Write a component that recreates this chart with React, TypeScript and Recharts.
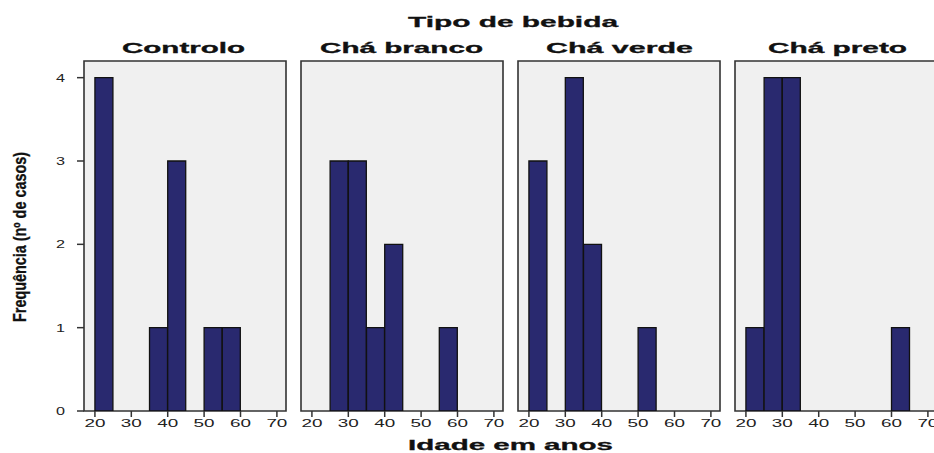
import { Bar, BarChart, CartesianGrid, ReferenceArea, XAxis, YAxis } from "recharts";

// histogram bins of 5 years, 20-70 (centres)
const binCenters = [22.5, 27.5, 32.5, 37.5, 42.5, 47.5, 52.5, 57.5, 62.5, 67.5];

const controlo = [4, 0, 0, 1, 3, 0, 1, 1, 0, 0];
const chaBranco = [0, 3, 3, 1, 2, 0, 0, 1, 0, 0];
const chaVerde = [3, 0, 4, 2, 0, 0, 1, 0, 0, 0];
const chaPreto = [1, 4, 4, 0, 0, 0, 0, 0, 1, 0];

const panelTitles = ["Controlo", "Chá branco", "Chá verde", "Chá preto"];
const panelSeries = [controlo, chaBranco, chaVerde, chaPreto];

const ageTicks = [20, 30, 40, 50, 60, 70];
const countTicks = [0, 1, 2, 3, 4];

const FONT = "'Liberation Sans', Arial, sans-serif";
const BAR_FILL = "#29296f";
const FRAME = "#333";

const PLOT_LEFT = 84;
const PLOT_PITCH = 217;
const PLOT_W = 202;
const AXIS_W = 40;

type TickProps = { x?: number; y?: number; payload?: { value: number } };

function AgeTick({ x = 0, y = 0, payload }: TickProps) {
  return (
    <text
      x={x}
      y={y + 8}
      textAnchor="middle"
      fontFamily={FONT}
      fontSize={11}
      fill="#222"
      textLength={21}
      lengthAdjust="spacingAndGlyphs"
    >
      {payload?.value}
    </text>
  );
}

function CountTick({ x = 0, y = 0, payload }: TickProps) {
  return (
    <text
      x={x - 10}
      y={y + 4}
      textAnchor="end"
      fontFamily={FONT}
      fontSize={11}
      fill="#222"
      textLength={9}
      lengthAdjust="spacingAndGlyphs"
    >
      {payload?.value}
    </text>
  );
}

function Panel({ index }: { index: number }) {
  const values = panelSeries[index];
  const data = binCenters.map((age, i) => ({ age, count: values[i] }));
  const first = index === 0;

  return (
    <div style={{ position: "absolute", left: PLOT_LEFT + PLOT_PITCH * index - AXIS_W, top: 51 }}>
      <BarChart
        width={AXIS_W + PLOT_W + 12}
        height={390}
        data={data}
        margin={{ top: 10, right: 12, bottom: 0, left: 0 }}
        barCategoryGap={0}
        barGap={0}
      >
        <CartesianGrid fill="#f0f0f0" horizontal={false} vertical={false} />
        <XAxis
          dataKey="age"
          type="number"
          domain={[17, 72.5]}
          allowDataOverflow
          ticks={ageTicks}
          axisLine={false}
          tickSize={6}
          tickLine={{ stroke: FRAME, strokeWidth: 1.5 }}
          tick={<AgeTick />}
          height={30}
          interval={0}
        />
        <YAxis
          type="number"
          domain={[0, 4.2]}
          allowDataOverflow
          ticks={countTicks}
          width={AXIS_W}
          axisLine={false}
          tickSize={7}
          tickLine={first ? { stroke: FRAME, strokeWidth: 1.5 } : false}
          tick={first ? <CountTick /> : false}
          interval={0}
        />
        <Bar
          dataKey="count"
          fill={BAR_FILL}
          stroke="#111"
          strokeWidth={1.3}
          isAnimationActive={false}
        />
        <ReferenceArea
          x1={17}
          x2={72.5}
          y1={0}
          y2={4.2}
          fill="none"
          stroke={FRAME}
          strokeWidth={1.6}
          ifOverflow="visible"
        />
      </BarChart>
    </div>
  );
}

const panelTitleX = [183.5, 401.5, 619.5, 837.5];
const panelTitleLen = [123, 163, 147, 139];

export default function App() {
  return (
    <div
      style={{
        position: "absolute",
        left: 0,
        top: 0,
        width: 934,
        height: 453,
        overflow: "hidden",
        background: "#fff",
      }}
    >
      {panelTitles.map((_, i) => (
        <Panel key={i} index={i} />
      ))}
      <svg
        width={934}
        height={453}
        style={{ position: "absolute", left: 0, top: 0, pointerEvents: "none" }}
      >
        <text
          x={513}
          y={27}
          textAnchor="middle"
          fontFamily={FONT}
          fontWeight={700}
          fontSize={15}
          textLength={210}
          lengthAdjust="spacingAndGlyphs"
          fill="#111"
          stroke="#111"
          strokeWidth={0.3}
        >
          Tipo de bebida
        </text>
        {panelTitles.map((t, i) => (
          <text
            key={t}
            x={panelTitleX[i]}
            y={53}
            textAnchor="middle"
            fontFamily={FONT}
            fontWeight={700}
            fontSize={14}
            textLength={panelTitleLen[i]}
            lengthAdjust="spacingAndGlyphs"
            fill="#111"
            stroke="#111"
            strokeWidth={0.3}
          >
            {t}
          </text>
        ))}
        <text
          x={510.5}
          y={450}
          textAnchor="middle"
          fontFamily={FONT}
          fontWeight={700}
          fontSize={15}
          textLength={205}
          lengthAdjust="spacingAndGlyphs"
          fill="#111"
          stroke="#111"
          strokeWidth={0.3}
        >
          Idade em anos
        </text>
        <text
          transform="translate(26 237) rotate(-90)"
          textAnchor="middle"
          fontFamily={FONT}
          fontWeight={700}
          fontSize={18}
          textLength={170}
          lengthAdjust="spacingAndGlyphs"
          fill="#111"
          stroke="#111"
          strokeWidth={0.3}
        >
          Frequência (nº de casos)
        </text>
      </svg>
    </div>
  );
}
